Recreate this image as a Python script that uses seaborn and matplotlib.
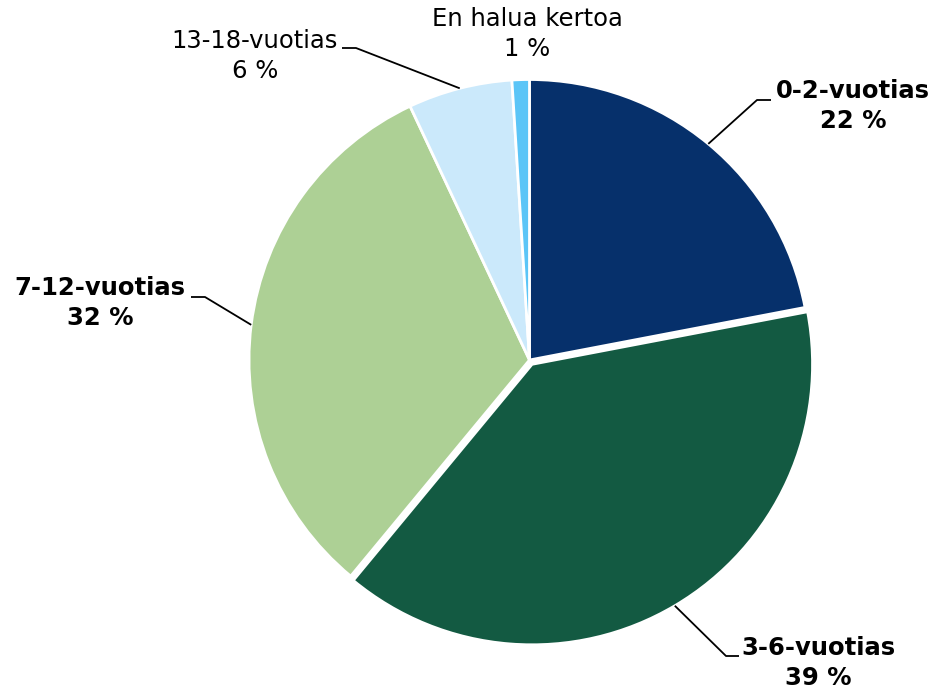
import numpy as np
import matplotlib
matplotlib.use("Agg")
import matplotlib.pyplot as plt
import seaborn as sns

categories = ["0-2-vuotias", "3-6-vuotias", "7-12-vuotias", "13-18-vuotias", "En halua kertoa"]
values = [22, 39, 32, 6, 1]
colors = ["#06306B", "#135A42", "#ADD095", "#CBE9FB", "#5BC5F7"]
bold = [True, True, True, False, False]

sns.set_theme(style="white")
plt.rcParams['font.family'] = ['DejaVu Sans']

W, H = 933, 689
fig = plt.figure(figsize=(W / 100, H / 100), dpi=100)
ax = fig.add_axes([0, 0, 1, 1])

cx, cy, r = 529.5, H - 360, 280.5
explode = [0, 5, 0, 0, 0]  # offset in px (data units)
wedges, _ = ax.pie(values, colors=colors, startangle=90, counterclock=False,
                   center=(cx, cy), radius=r, frame=True, explode=explode,
                   wedgeprops=dict(edgecolor="white", linewidth=2.0))
ax.set_xlim(0, W)
ax.set_ylim(0, H)
ax.axis("off")

# label layout: text center (px), elbow point (px), horizontal end (px)
label_pos = [(853, 106), (818, 663), (100, 303), (255, 56), (527, 34)]
elbows = [((757, 100), (771, 100)), ((726, 656), (739, 656)),
          ((205, 297), (191, 297)), ((356, 48), (342, 48)), None]

for w, cat, v, b, lp, el in zip(wedges, categories, values, bold, label_pos, elbows):
    ang = np.deg2rad((w.theta1 + w.theta2) / 2)
    wcx, wcy = w.center
    ex, ey = wcx + r * np.cos(ang), wcy + r * np.sin(ang)
    if el is not None:
        (x1, y1), (x2, y2) = el
        ax.plot([ex, x1, x2], [ey, H - y1, H - y2], color="black", lw=1.3,
                solid_capstyle="butt", zorder=3)
    ax.text(lp[0], H - lp[1], f"{cat}\n{v} %", ha="center", va="center",
            fontsize=17.5, fontweight="bold" if b else "normal", color="black",
            linespacing=1.3)

fig.savefig("out.png", dpi=100)
